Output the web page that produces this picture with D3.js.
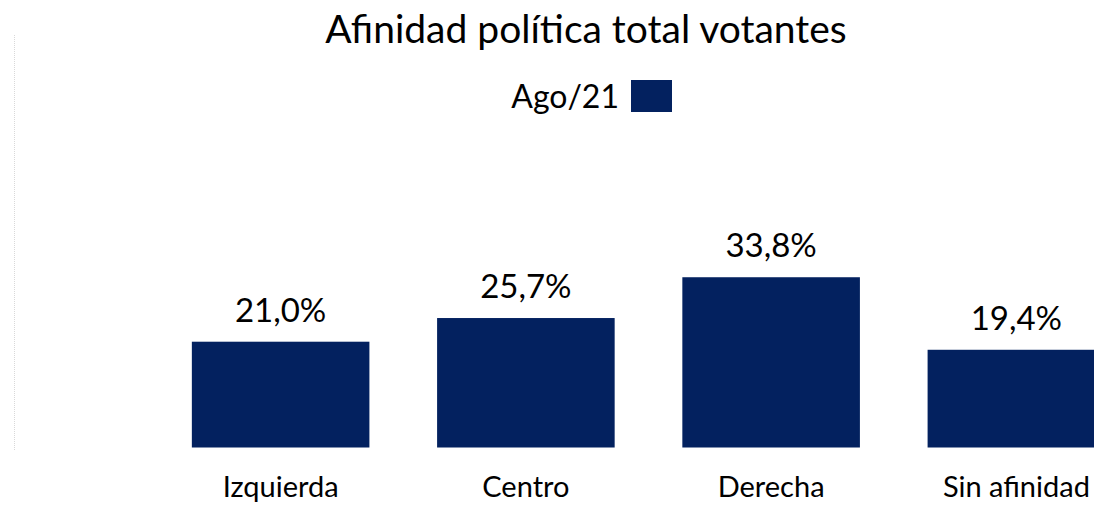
<!DOCTYPE html>
<html>
<head>
<meta charset="utf-8">
<script src="https://cdn.jsdelivr.net/npm/d3@7"></script>
<style>
  body { margin: 0; background: #fff; }
  text { font-family: Lato, "Open Sans", sans-serif; fill: #000; }
</style>
</head>
<body>
<svg width="1094" height="505"></svg>
<script>
// data
var categories = ["Izquierda", "Centro", "Derecha", "Sin afinidad"];
var values = [21.0, 25.7, 33.8, 19.4];
var seriesName = "Ago/21";
var title = "Afinidad política total votantes";
// end of data

var svg = d3.select("svg"),
    width = +svg.attr("width"),
    height = +svg.attr("height"),
    barColor = "#03215f";

var x = d3.scaleBand()
          .domain(categories)
          .range([158, 1139])
          .paddingInner(0.276)
          .paddingOuter(0.138);

var y = d3.scaleLinear()
          .domain([0, 40])
          .range([447.5, 246]);

var fmt = function(v) { return d3.format(".1f")(v).replace(".", ",") + "%"; };

// faint dotted frame edge on the left
svg.append("line")
   .attr("x1", 14.5).attr("x2", 14.5)
   .attr("y1", 35).attr("y2", 450)
   .attr("stroke", "#d9d9d9")
   .attr("stroke-dasharray", "1,1");

svg.append("text")
   .attr("x", 586).attr("y", 43)
   .attr("text-anchor", "middle")
   .style("font-size", "39px")
   .text(title);

// legend
svg.append("text")
   .attr("x", 619).attr("y", 108)
   .attr("text-anchor", "end")
   .style("font-size", "32px")
   .text(seriesName);

svg.append("rect")
   .attr("x", 631).attr("y", 80)
   .attr("width", 41).attr("height", 32)
   .attr("fill", barColor);

var g = svg.append("g");

g.selectAll("rect.bar")
  .data(values)
  .enter().append("rect")
    .attr("class", "bar")
    .attr("x", function(d, i) { return x(categories[i]); })
    .attr("y", function(d) { return y(d); })
    .attr("width", x.bandwidth())
    .attr("height", function(d) { return y(0) - y(d); })
    .attr("fill", barColor);

g.selectAll("text.value")
  .data(values)
  .enter().append("text")
    .attr("class", "value")
    .attr("x", function(d, i) { return x(categories[i]) + x.bandwidth() / 2; })
    .attr("y", function(d) { return y(d) - 20; })
    .attr("text-anchor", "middle")
    .style("font-size", "33px")
    .text(fmt);

var xAxis = svg.append("g")
   .attr("transform", "translate(0," + 447.5 + ")")
   .call(d3.axisBottom(x).tickSize(0).tickPadding(0));

xAxis.select(".domain").remove();
xAxis.selectAll("text")
   .attr("y", 49)
   .attr("dy", null)
   .style("font-size", "29px")
   .style("font-family", "Lato, 'Open Sans', sans-serif")
   .attr("fill", "#000");
</script>
</body>
</html>
